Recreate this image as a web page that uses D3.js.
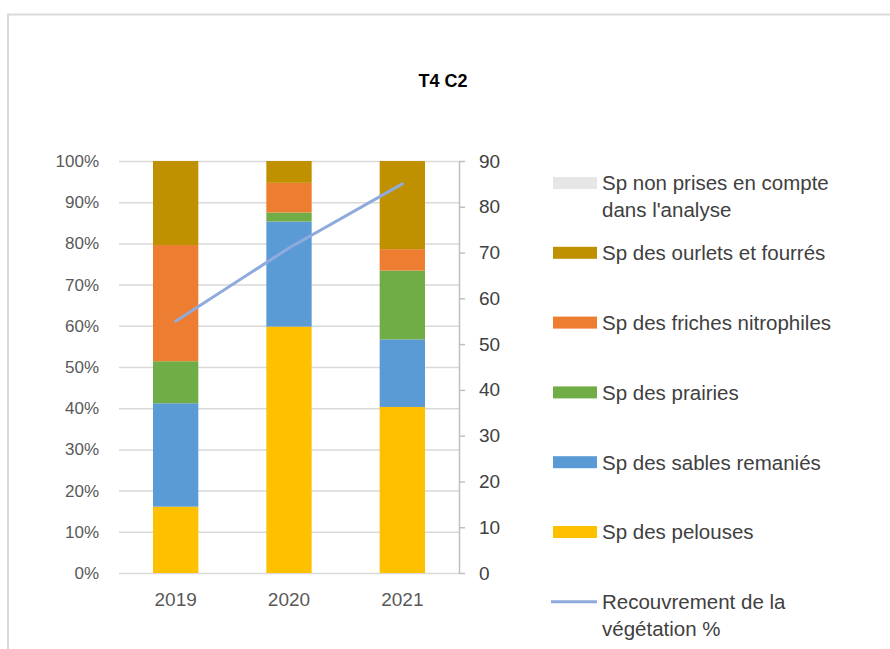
<!DOCTYPE html>
<html>
<head>
<meta charset="utf-8">
<script src="https://cdn.jsdelivr.net/npm/d3@7"></script>
<style>
  body { margin: 0; background: #fff; }
  text { font-family: "Liberation Sans", Arial, sans-serif; }
</style>
</head>
<body>
<script>
// Data
var years = ["2019", "2020", "2021"];
var pelouses = [16.1, 59.8, 40.3];
var sables = [25.1, 25.5, 16.4];
var prairies = [10.2, 2.2, 16.7];
var friches = [28.2, 7.2, 5.2];
var ourlets = [20.4, 5.3, 21.4];
var nonPrises = [0, 0, 0];
var recouvrement = [55, 71, 85];
var pctTicks = [0, 10, 20, 30, 40, 50, 60, 70, 80, 90, 100];
var rightTicks = [0, 10, 20, 30, 40, 50, 60, 70, 80, 90];

// series, bottom to top of the stack
var series = [
  { key: "pelouses", name: "Sp des pelouses", values: pelouses, color: "#FFC000" },
  { key: "sables", name: "Sp des sables remaniés", values: sables, color: "#5B9BD5" },
  { key: "prairies", name: "Sp des prairies", values: prairies, color: "#70AD47" },
  { key: "friches", name: "Sp des friches nitrophiles", values: friches, color: "#ED7D31" },
  { key: "ourlets", name: "Sp des ourlets et fourrés", values: ourlets, color: "#BF9000" },
  { key: "nonPrises", name: ["Sp non prises en compte", "dans l'analyse"], values: nonPrises, color: "#E7E6E6" }
];
var lineColor = "#8FAADC";

var width = 890, height = 649;
var svg = d3.select("body").append("svg")
    .attr("width", width)
    .attr("height", height);

// chart area border (cropped at right / bottom)
svg.append("rect")
    .attr("x", 8)
    .attr("y", 14.5)
    .attr("width", 900)
    .attr("height", 700)
    .style("fill", "#fff")
    .style("stroke", "#d9d9d9")
    .style("stroke-width", 2);

svg.append("text")
    .attr("x", 443)
    .attr("y", 87)
    .style("text-anchor", "middle")
    .style("font-size", "18px")
    .style("font-weight", "bold")
    .style("fill", "#000")
    .text("T4 C2");

var plot = { left: 119, right: 459, top: 161, bottom: 573 };

var x = d3.scaleBand()
    .domain(years)
    .range([plot.left, plot.right])
    .paddingInner(0.6)
    .paddingOuter(0.3);

var y = d3.scaleLinear().domain([0, 100]).range([plot.bottom, plot.top]);
var y2 = d3.scaleLinear().domain([0, 90]).range([plot.bottom, plot.top]);

// gridlines + left axis
var leftAxis = svg.append("g")
    .attr("transform", "translate(" + plot.left + ",0)")
    .call(d3.axisLeft(y).tickValues(pctTicks)
      .tickSize(-(plot.right - plot.left))
      .tickPadding(20)
      .tickFormat(function(d) { return d + "%"; }));
leftAxis.select(".domain").remove();
leftAxis.selectAll("line").style("stroke", "#d9d9d9").style("stroke-width", 1.5);
leftAxis.selectAll("text")
    .style("font-size", "17px")
    .style("fill", "#595959")
    .style("font-family", "'Liberation Sans', Arial, sans-serif");

// stacked bars
var table = years.map(function(yr, i) {
  var row = { year: yr };
  series.forEach(function(s) { row[s.key] = s.values[i]; });
  return row;
});
var stack = d3.stack().keys(series.map(function(s) { return s.key; }));
var layers = stack(table);

svg.append("g").selectAll("g")
    .data(layers)
    .enter().append("g")
      .style("fill", function(d, i) { return series[i].color; })
    .selectAll("rect")
    .data(function(d) { return d; })
    .enter().append("rect")
      .attr("x", function(d) { return x(d.data.year); })
      .attr("y", function(d) { return y(d[1]); })
      .attr("width", x.bandwidth())
      .attr("height", function(d) { return y(d[0]) - y(d[1]); });

// x labels
var bottomAxis = svg.append("g")
    .attr("transform", "translate(0," + plot.bottom + ")")
    .call(d3.axisBottom(x).tickSize(0).tickPadding(20));
bottomAxis.select(".domain").remove();
bottomAxis.selectAll("text")
    .style("font-size", "19px")
    .style("fill", "#595959")
    .style("font-family", "'Liberation Sans', Arial, sans-serif");

// right axis
var rightAxis = svg.append("g")
    .attr("transform", "translate(" + plot.right + ",0)")
    .call(d3.axisRight(y2).tickValues(rightTicks).tickSize(6).tickSizeOuter(0).tickPadding(14));
rightAxis.select(".domain").style("stroke", "#bfbfbf").style("stroke-width", 1.5);
rightAxis.selectAll("line").style("stroke", "#bfbfbf").style("stroke-width", 1.5);
rightAxis.selectAll("text")
    .style("font-size", "19px")
    .style("fill", "#404040")
    .style("font-family", "'Liberation Sans', Arial, sans-serif");

// vegetation cover line
var line = d3.line()
    .x(function(d, i) { return x(years[i]) + x.bandwidth() / 2; })
    .y(function(d) { return y2(d); });

svg.append("path")
    .datum(recouvrement)
    .attr("d", line)
    .style("fill", "none")
    .style("stroke", lineColor)
    .style("stroke-width", 3)
    .style("stroke-linecap", "round");

// legend
var legendItems = series.slice().reverse().map(function(s) {
  return { name: s.name, color: s.color, type: "rect" };
});
legendItems.push({ name: ["Recouvrement de la", "végétation %"], color: lineColor, type: "line" });

var legend = svg.append("g");
legendItems.forEach(function(item, i) {
  var cy = 183 + i * 69.8;
  var g = legend.append("g");
  if (item.type == "rect") {
    g.append("rect")
        .attr("x", 553)
        .attr("y", cy - 6)
        .attr("width", 44)
        .attr("height", 12)
        .style("fill", item.color);
  } else {
    g.append("line")
        .attr("x1", 551)
        .attr("x2", 597)
        .attr("y1", cy)
        .attr("y2", cy)
        .style("stroke", item.color)
        .style("stroke-width", 3);
  }
  var lines = Array.isArray(item.name) ? item.name : [item.name];
  lines.forEach(function(t, j) {
    g.append("text")
        .attr("x", 602)
        .attr("y", cy + j * 27)
        .attr("dy", "0.36em")
        .style("font-size", "20.5px")
        .style("fill", "#404040")
        .text(t);
  });
});
</script>
</body>
</html>
